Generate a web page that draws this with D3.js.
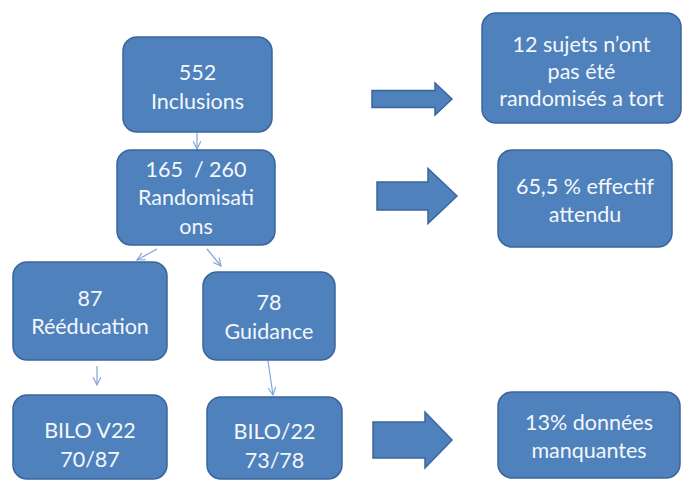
<!DOCTYPE html>
<html><head><meta charset="utf-8">
<script src="https://cdn.jsdelivr.net/npm/d3@7"></script>
<style>body{margin:0;background:#fff}svg{display:block}</style>
</head><body>
<script>
// Flowchart content
const boxIds = ["incl","rand","reed","guid","bilo1","bilo2","tort","eff","manq"];
const boxLabels = [
  ["552","Inclusions"],
  ["165  / 260","Randomisati","ons"],
  ["87","Rééducation"],
  ["78","Guidance"],
  ["BILO V22","70/87"],
  ["BILO/22","73/78"],
  ["12 sujets n\u2019ont","pas été","randomisés a tort"],
  ["65,5 % effectif","attendu"],
  ["13% données","manquantes"]
];
const links = [["incl","rand"],["rand","reed"],["rand","guid"],["reed","bilo1"],["guid","bilo2"]];
const blockArrows = ["incl","rand","bilo2"];

// layout
const W = 683, H = 481;
const layout = {
  incl:  {x:123,y:37,w:149,h:95, ty:[72,101]},
  rand:  {x:117,y:150,w:158,h:95, ty:[169,197,226]},
  reed:  {x:13,y:262,w:154,h:98, ty:[298,326]},
  guid:  {x:203,y:272,w:132,h:88, ty:[302,331]},
  bilo1: {x:13,y:395,w:154,h:84, ty:[430,459]},
  bilo2: {x:207,y:397,w:135,h:82, ty:[431,460]},
  tort:  {x:482,y:13,w:199,h:110, ty:[44,71,98]},
  eff:   {x:498,y:150,w:174,h:97, ty:[186,214]},
  manq:  {x:498,y:392,w:182,h:86, ty:[422,450]}
};
const connectors = {
  "incl-rand": [[197,133],[197,149]],
  "rand-reed": [[157,249],[137,260]],
  "rand-guid": [[207,249],[221,266]],
  "reed-bilo1": [[97,366],[97,385]],
  "guid-bilo2": [[268,361],[273,395]]
};
const blockGeom = [
  {x0:372,x1:452,xh:435,cy:99,sh:17,hh:32},
  {x0:377,x1:457,xh:428,cy:196,sh:28,hh:55},
  {x0:373,x1:452,xh:425,cy:440,sh:36,hh:56}
];

const fill = "#4f81bd", stroke = "#3a659b";
const svg = d3.select("body").append("svg").attr("width",W).attr("height",H);
const defs = svg.append("defs");
defs.append("marker").attr("id","ah").attr("viewBox","0 0 10 10")
  .attr("refX",9).attr("refY",5).attr("markerWidth",8).attr("markerHeight",8)
  .attr("orient","auto")
  .append("path").attr("d","M1,1 L9,5 L1,9").attr("fill","none")
  .attr("stroke","#7ea6d8").attr("stroke-width",1.2);

// connectors
svg.selectAll("line.conn").data(links).join("line").attr("class","conn")
  .attr("x1",d=>connectors[d.join("-")][0][0]).attr("y1",d=>connectors[d.join("-")][0][1])
  .attr("x2",d=>connectors[d.join("-")][1][0]).attr("y2",d=>connectors[d.join("-")][1][1])
  .attr("stroke","#7ea6d8").attr("stroke-width",1.2).attr("marker-end","url(#ah)");

// block arrows
const arrowPath = g => {
  const p = [[g.x0,g.cy-g.sh/2],[g.xh,g.cy-g.sh/2],[g.xh,g.cy-g.hh/2],[g.x1,g.cy],
             [g.xh,g.cy+g.hh/2],[g.xh,g.cy+g.sh/2],[g.x0,g.cy+g.sh/2]];
  return d3.line()(p)+"Z";
};
svg.selectAll("path.barrow").data(blockArrows).join("path").attr("class","barrow")
  .attr("d",(d,i)=>arrowPath(blockGeom[i]))
  .attr("fill",fill).attr("stroke",stroke).attr("stroke-width",1.5).attr("stroke-linejoin","miter");

// boxes
const g = svg.selectAll("g.box").data(boxIds).join("g").attr("class","box");
g.append("rect")
  .attr("x",d=>layout[d].x).attr("y",d=>layout[d].y)
  .attr("width",d=>layout[d].w).attr("height",d=>layout[d].h)
  .attr("rx",14).attr("ry",14)
  .attr("fill",fill).attr("stroke",stroke).attr("stroke-width",1.5);
g.each(function(d,i){
  const L = layout[d];
  d3.select(this).selectAll("text").data(boxLabels[i]).join("text")
    .attr("x",L.x+L.w/2).attr("y",(t,j)=>L.ty[j])
    .attr("text-anchor","middle").attr("dominant-baseline","central")
    .attr("fill","#f4f7fb").attr("font-family","Lato, 'Open Sans', sans-serif")
    .attr("font-size",21.5).style("white-space","pre").text(t=>t);
});
</script>
</body></html>
